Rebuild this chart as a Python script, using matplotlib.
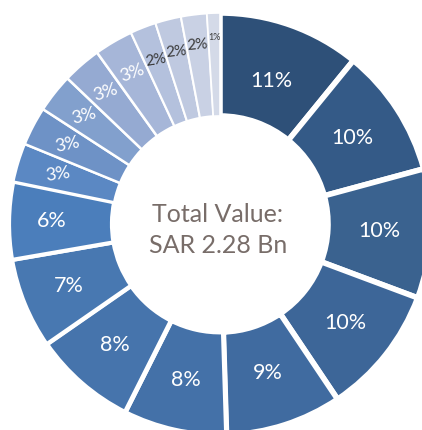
import matplotlib
matplotlib.use("Agg")
import matplotlib.pyplot as plt
import numpy as np

# slice shares (%), clockwise from 12 o'clock
values = [11, 10, 10, 10, 9, 8, 8, 7, 6, 3, 3, 3, 3, 3, 2, 2, 2, 1]
labels = [f"{v}%" for v in values]
center_text = "Total Value:\nSAR 2.28 Bn"

colors = ["#2E5078", "#345A87", "#3A628F", "#3D6698", "#406BA0", "#4471A8",
          "#4674AC", "#4878B1", "#4B7EBB", "#5B88C3", "#6E92C6", "#82A0CD",
          "#95AAD2", "#A6B6D8", "#B4C1DD", "#BFC9E0", "#C9D1E4", "#D4DAE8"]
text_colors = ["white"] * 14 + ["#3A3A3A"] * 4
font_sizes = [15.5] * 9 + [13] * 5 + [11] * 3 + [6.5]
rotations = [0] * 9 + [8, 12, 15, 18, 20, 10, 6, 5, 0]
label_r = [152, 158, 160, 160, 156, 160, 160, 163, 168,
           170, 172, 174, 175, 175, 176, 178, 180, 187]
edge_w = [4.0, 4.0, 4.0, 4.0, 4.0, 3.5, 3.5, 3.0, 3.0,
          1.8, 1.8, 1.8, 1.8, 1.8, 1.5, 1.5, 1.5, 1.2]

plt.rcParams["font.family"] = ["Lato", "DejaVu Sans"]

fig = plt.figure(figsize=(4.22, 4.30), dpi=100)
ax = fig.add_axes([0, 0, 1, 1])
ax.axis("off")

cx, cy, R = 220, 206, 211
wedges, _ = ax.pie(values, colors=colors, startangle=90, counterclock=False,
                   radius=R, center=(cx, cy),
                   wedgeprops=dict(width=103, edgecolor="white"))
ax.set_xlim(0, 422)
ax.set_ylim(0, 430)

for i, w in enumerate(wedges):
    w.set_linewidth(edge_w[i])
    ang = np.deg2rad((w.theta1 + w.theta2) / 2)
    x = cx + label_r[i] * np.cos(ang)
    y = cy + label_r[i] * np.sin(ang)
    ax.text(x, y, labels[i], ha="center", va="center", color=text_colors[i],
            fontsize=font_sizes[i], rotation=rotations[i])

ax.text(cx - 2, cy - 6, center_text, ha="center", va="center",
        color="#786D69", fontsize=18, linespacing=1.45)

fig.savefig("out.png", dpi=100, facecolor="white")
